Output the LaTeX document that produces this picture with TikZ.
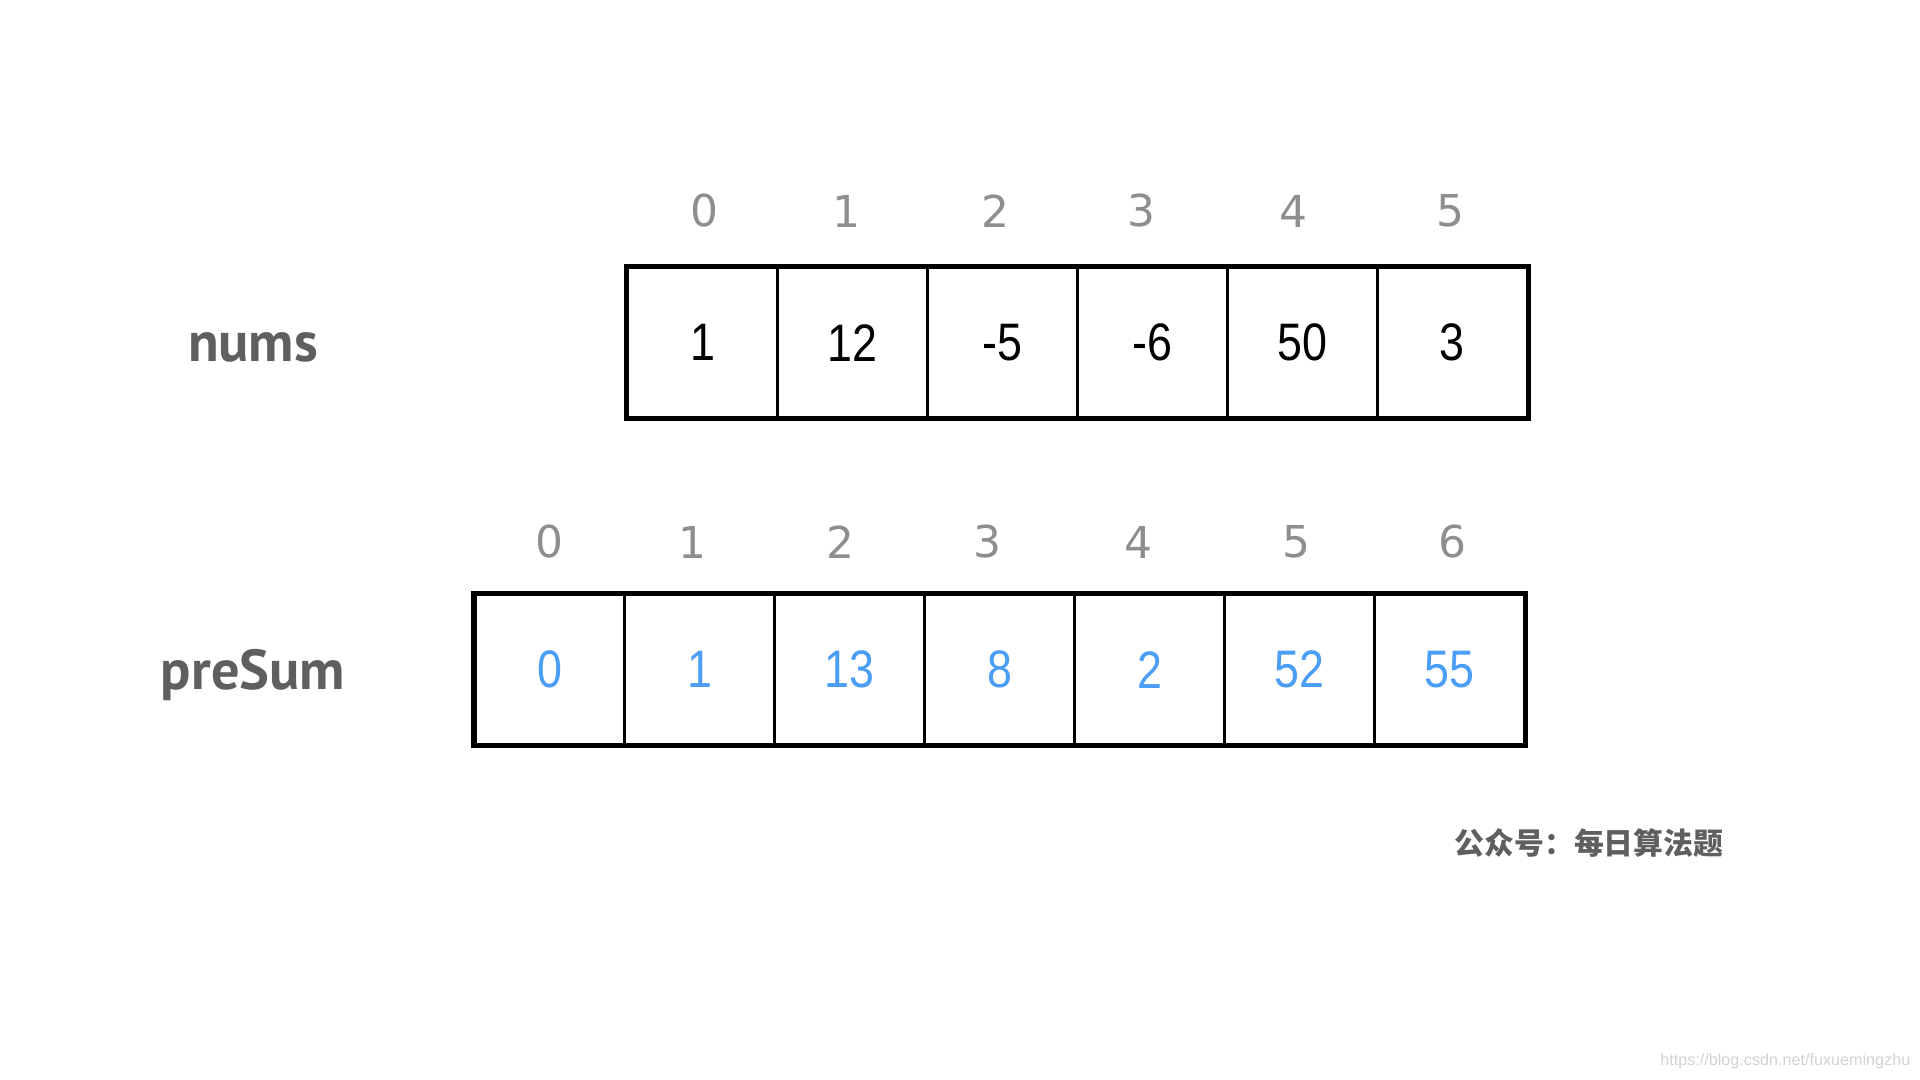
\documentclass[tikz,border=0pt]{standalone}
\usepackage{fontspec}
\setmainfont{Liberation Sans}
\newfontfamily\lblfont{PT Sans}
\newfontfamily\idxfont{DejaVu Sans}
\newfontfamily\cjk{Noto Sans CJK SC}
\definecolor{lblgray}{HTML}{5F5F5F}
\definecolor{idxgray}{HTML}{8E8E8E}
\definecolor{valblue}{HTML}{4A9EF5}
\definecolor{wmgray}{HTML}{D2D2D2}
\newcommand{\nar}[1]{\scalebox{0.85}[1]{#1}}
\begin{document}
\begin{tikzpicture}[x=0.01cm,y=-0.01cm,
  cell/.style={draw=black,line width=0.85pt,minimum width=1.499cm,minimum height=1.495cm,inner sep=0pt,anchor=center,font=\fontsize{15pt}{15pt}\selectfont},
  valb/.style={cell,text=valblue},
  idx/.style={text=idxgray,font=\idxfont\fontsize{12.5pt}{12.5pt}\selectfont,inner sep=0pt},
  arrlabel/.style={text=lblgray,font=\lblfont\bfseries\fontsize{16pt}{16pt}\selectfont,inner sep=0pt},
  outer/.style={draw=black,line width=1.22pt}]
\useasboundingbox (0,0) rectangle (1920,1080);
% nums
\node[arrlabel] (numslbl) at (253,347) {nums};
\node[cell] (n0) at (702.5,342.75) {\raisebox{-1pt}{\nar{1}}};
\node[cell] (n1) at (852.4,342.75) {\raisebox{-1pt}{\nar{12}}};
\node[cell] (n2) at (1002.3,342.75) {\raisebox{-1pt}{\nar{-5}}};
\node[cell] (n3) at (1152.2,342.75) {\raisebox{-1pt}{\nar{-6}}};
\node[cell] (n4) at (1302.1,342.75) {\raisebox{-1pt}{\nar{50}}};
\node[cell] (n5) at (1452,342.75) {\raisebox{-1pt}{\nar{3}}};
\draw[outer] (n0.north west) rectangle (n5.south east);
\node[idx] (i0) at (704,211) {0};
\node[idx] (i1) at (846,211) {1};
\node[idx] (i2) at (995,211) {2};
\node[idx] (i3) at (1141,211) {3};
\node[idx] (i4) at (1293,211) {4};
\node[idx] (i5) at (1450,211) {5};
% preSum
\node[arrlabel] (prelbl) at (253,675) {preSum};
\node[valb] (p0) at (550,669.75) {\nar{0}};
\node[valb] (p1) at (699.9,669.75) {\nar{1}};
\node[valb] (p2) at (849.9,669.75) {\nar{13}};
\node[valb] (p3) at (999.8,669.75) {\nar{8}};
\node[valb] (p4) at (1149.7,669.75) {\nar{2}};
\node[valb] (p5) at (1299.6,669.75) {\nar{52}};
\node[valb] (p6) at (1449.6,669.75) {\nar{55}};
\draw[outer] (p0.north west) rectangle (p6.south east);
\node[idx] (j0) at (549,542) {0};
\node[idx] (j1) at (692,542) {1};
\node[idx] (j2) at (840,542) {2};
\node[idx] (j3) at (987,542) {3};
\node[idx] (j4) at (1138,542) {4};
\node[idx] (j5) at (1296,542) {5};
\node[idx] (j6) at (1452,542) {6};
% footer
\node[text=lblgray,font=\cjk\bfseries\fontsize{8.5pt}{8.5pt}\selectfont,inner sep=0pt] (foot) at (1589,843) {公众号：每日算法题};
\node[text=wmgray,font=\fontsize{4.6pt}{4.6pt}\selectfont,inner sep=0pt,anchor=east] (wm) at (1911,1061) {https://blog.csdn.net/fuxuemingzhu};
\end{tikzpicture}
\end{document}
